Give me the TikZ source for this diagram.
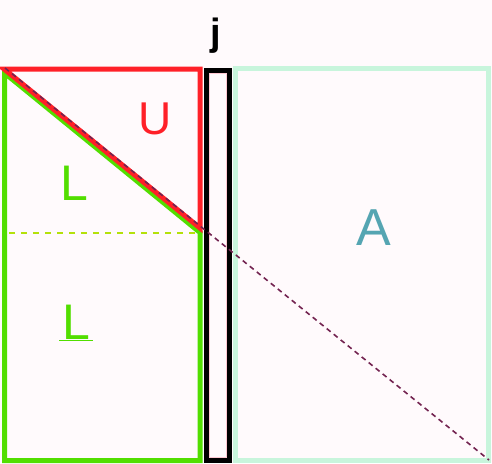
\documentclass[tikz,border=0pt]{standalone}
\usepackage{fontspec}
\setmainfont{Liberation Sans}
\definecolor{bgpink}{RGB}{255,250,252}
\definecolor{redU}{RGB}{255,32,40}
\definecolor{greenL}{RGB}{82,222,0}
\definecolor{mintA}{RGB}{200,245,220}
\definecolor{tealA}{RGB}{85,165,178}
\definecolor{diagc}{RGB}{115,35,80}
\definecolor{yelc}{RGB}{180,225,10}
\definecolor{pinkline}{RGB}{255,200,210}
\tikzset{
  lbl/.style={anchor=base, inner sep=0pt, font=\fontsize{50}{50}\selectfont},
}
\begin{document}
\begin{tikzpicture}[x=1pt,y=-1pt]
\fill[bgpink] (0,0) rectangle (492,463);
\useasboundingbox (0,0) rectangle (492,463);
% A block
\draw[mintA, line width=5pt] (235,68.5) rectangle (488,460.5);
% column j
\draw[black, line width=5pt] (206.5,70) rectangle (229.5,460.5);
\draw[pinkline, line width=0.8pt] (209.5,73) rectangle (226.5,457.5);
% L region
\draw[greenL, line width=5pt, line join=miter] (200,232.5) -- (200,460.5) -- (4.5,460.5) -- (4.5,73) -- cycle;
% U region
\draw[redU, line width=5pt, line join=miter] (4,69) -- (200,69) -- (200,228) -- cycle;
% separating dashed line
\draw[yelc, line width=1.3pt, dash pattern=on 6pt off 6pt] (9,233) -- (197,233);
% diagonal
\draw[diagc, line width=1.6pt, dash pattern=on 5pt off 4pt] (5,68) -- (489,460);
% labels
\node[lbl, text=redU, font=\fontsize{46}{46}\selectfont] (u) at (155.5,134.5) {U};
\node[lbl, text=greenL] (l1) at (74,200) {L};
\node[lbl, text=greenL] (l2) at (76,339) {\underline{\makebox[34pt]{L}}};
\node[lbl, text=tealA, font=\fontsize{52}{52}\selectfont] (a) at (374,245) {A};
\node[lbl, font=\bfseries\fontsize{38}{38}\selectfont] (j) at (216,45) {j};
\end{tikzpicture}
\end{document}
